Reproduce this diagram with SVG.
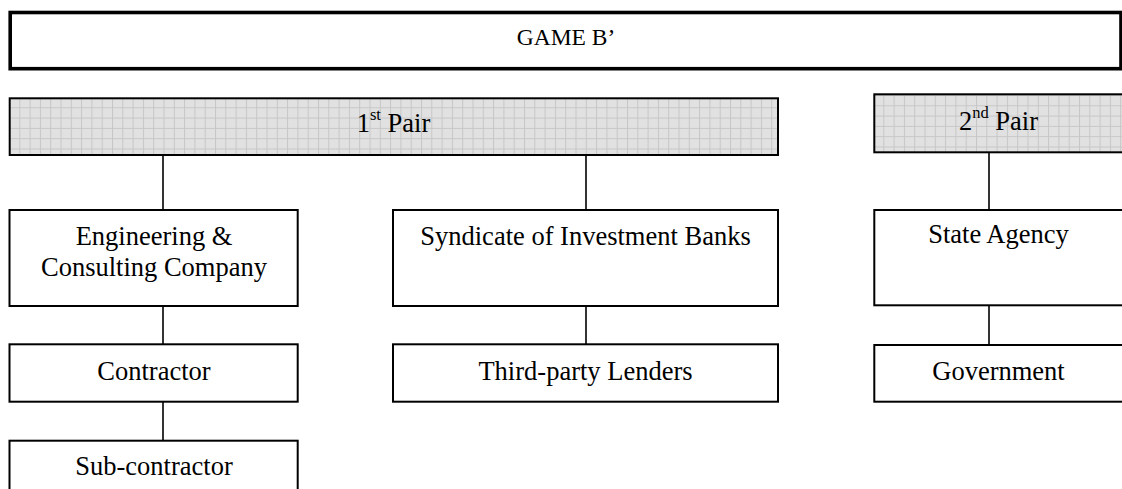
<svg xmlns="http://www.w3.org/2000/svg" width="1122" height="489" viewBox="0 0 1122 489">
  <style>
    .box { fill: #ffffff; stroke: #000000; stroke-width: 2; }
    .pair { stroke: #000000; stroke-width: 2; }
    .game { fill: #ffffff; stroke: #000000; stroke-width: 3.6; }
    .lbl { font-family: "Liberation Serif", "Times New Roman", serif; font-size: 26.5px; fill: #000000; text-anchor: middle; }
    .sup { font-size: 16.5px; }
    .title { font-family: "Liberation Serif", "Times New Roman", serif; font-size: 23.5px; fill: #000000; text-anchor: middle; }
    .conn { stroke: #000000; stroke-width: 1.6; fill: none; }
  </style>
  <defs>
    <pattern id="grid1" patternUnits="userSpaceOnUse" x="9" y="97" width="10.3" height="10.3">
      <rect width="10.3" height="10.3" fill="#e1e1e1"/>
      <path d="M0 0.5H10.3M0.5 0V10.3" stroke="#c6c6c6" stroke-width="1" fill="none"/>
    </pattern>
    <pattern id="grid2" patternUnits="userSpaceOnUse" x="873" y="95" width="10.3" height="10.3">
      <rect width="10.3" height="10.3" fill="#e1e1e1"/>
      <path d="M0 0.5H10.3M0.5 0V10.3" stroke="#c6c6c6" stroke-width="1" fill="none"/>
    </pattern>
  </defs>
  <rect width="1122" height="489" fill="#ffffff"/>

  <g id="connectors">
    <line class="conn" x1="163" y1="155" x2="163" y2="210"/>
    <line class="conn" x1="163" y1="306" x2="163" y2="344"/>
    <line class="conn" x1="163" y1="402" x2="163" y2="441"/>
    <line class="conn" x1="586" y1="152" x2="586" y2="210"/>
    <line class="conn" x1="586" y1="306" x2="586" y2="344"/>
    <line class="conn" x1="989" y1="152" x2="989" y2="210"/>
    <line class="conn" x1="989" y1="305" x2="989" y2="345"/>
  </g>

  <g id="game">
    <rect class="game" x="10.2" y="12.5" width="1110.8" height="56.2"/>
    <text class="title" x="566" y="45">GAME B’</text>
  </g>

  <g id="pair1">
    <rect class="pair" x="9.7" y="98.3" width="768.3" height="56.7" fill="url(#grid1)"/>
    <text class="lbl" x="393.5" y="132.3">1<tspan class="sup" dy="-12">st</tspan><tspan dy="12"> Pair</tspan></text>
  </g>

  <g id="pair2">
    <rect class="pair" x="874.3" y="94.3" width="250" height="58" fill="url(#grid2)"/>
    <text class="lbl" x="998.5" y="130">2<tspan class="sup" dy="-12">nd</tspan><tspan dy="12"> Pair</tspan></text>
  </g>

  <g id="engineering">
    <rect class="box" x="9.5" y="210" width="288.2" height="96"/>
    <text class="lbl" x="154" y="245">Engineering &amp;</text>
    <text class="lbl" x="154" y="276">Consulting Company</text>
  </g>

  <g id="contractor">
    <rect class="box" x="9.5" y="344.3" width="288.2" height="57.4"/>
    <text class="lbl" x="154" y="380">Contractor</text>
  </g>

  <g id="subcontractor">
    <rect class="box" x="9.5" y="440.7" width="288.2" height="60"/>
    <text class="lbl" x="154" y="475">Sub-contractor</text>
  </g>

  <g id="syndicate">
    <rect class="box" x="393" y="210" width="385" height="96"/>
    <text class="lbl" x="585.5" y="245">Syndicate of Investment Banks</text>
  </g>

  <g id="lenders">
    <rect class="box" x="393" y="344.3" width="385" height="57.4"/>
    <text class="lbl" x="585.5" y="380">Third-party Lenders</text>
  </g>

  <g id="stateagency">
    <rect class="box" x="874.3" y="210" width="250" height="95.3"/>
    <text class="lbl" x="998.5" y="243">State Agency</text>
  </g>

  <g id="government">
    <rect class="box" x="874.3" y="345" width="250" height="56.7"/>
    <text class="lbl" x="998.5" y="380">Government</text>
  </g>
</svg>
